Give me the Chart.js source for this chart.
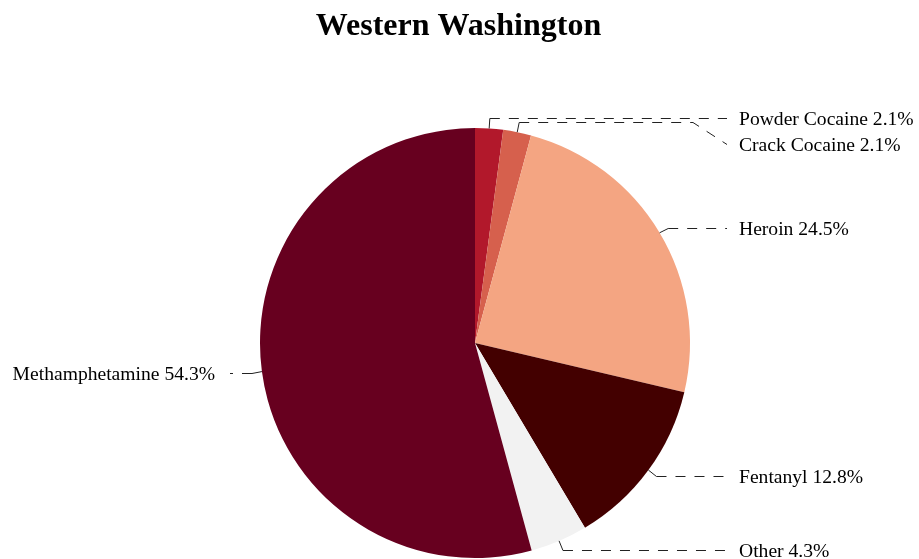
<!DOCTYPE html>
<html>
<head>
<meta charset="utf-8">
<script src="https://cdn.jsdelivr.net/npm/chart.js@4.4.0/dist/chart.umd.min.js"></script>
<style>
  html, body { margin: 0; padding: 0; background: #fff; }
  #wrap { width: 919px; height: 559px; position: relative; }
</style>
</head>
<body>
<div id="wrap"><canvas id="pieChart"></canvas></div>
<script>
// chart data
const chartTitle = 'Western Washington';
const drugLabels = ['Powder Cocaine', 'Crack Cocaine', 'Heroin', 'Fentanyl', 'Other', 'Methamphetamine'];
const drugShares = [2.1, 2.1, 24.5, 12.8, 4.3, 54.3];
const sliceColors = ['#b2182b', '#d6604d', '#f4a582', '#430000', '#f2f2f2', '#67001f'];

const serif = '"Liberation Serif", "Times New Roman", serif';

// draws title plus dashed leader lines and labels outside the pie
const calloutPlugin = {
  id: 'callouts',
  afterDraw(chart) {
    const ctx = chart.ctx;
    const w = chart.width;

    ctx.save();
    ctx.fillStyle = '#000';
    ctx.font = 'bold 32px ' + serif;
    ctx.textAlign = 'center';
    ctx.textBaseline = 'alphabetic';
    ctx.fillText(chartTitle, w / 2 - 1, 35);

    const arcs = chart.getDatasetMeta(0).data;
    const items = arcs.map((arc, i) => {
      const p = arc.getProps(['x', 'y', 'startAngle', 'endAngle', 'outerRadius'], true);
      const mid = (p.startAngle + p.endAngle) / 2;
      const r = p.outerRadius;
      const edge = { x: p.x + Math.cos(mid) * r, y: p.y + Math.sin(mid) * r };
      const elbow = { x: p.x + Math.cos(mid) * (r + 10), y: Math.round(p.y + Math.sin(mid) * (r + 10)) + 0.5 };
      return {
        text: drugLabels[i] + ' ' + drugShares[i].toFixed(1) + '%',
        edge,
        elbow,
        right: Math.cos(mid) >= 0,
        labelY: elbow.y
      };
    });

    // push overlapping labels apart on each side
    [true, false].forEach((side) => {
      const group = items.filter((it) => it.right === side).sort((a, b) => a.labelY - b.labelY);
      for (let k = 1; k < group.length; k++) {
        if (group[k].labelY - group[k - 1].labelY < 26) {
          group[k].labelY = group[k - 1].labelY + 26;
        }
      }
    });

    ctx.font = '19.6px ' + serif;
    ctx.strokeStyle = '#222';
    ctx.lineWidth = 1;

    items.forEach((it) => {
      const textX = it.right ? 739 : 215;
      const lineEnd = it.right ? textX - 12 : textX + 15;
      const bend = it.right ? lineEnd - 34 : lineEnd + 34;

      ctx.setLineDash([]);
      ctx.beginPath();
      ctx.moveTo(it.edge.x, it.edge.y);
      ctx.lineTo(it.elbow.x, it.elbow.y);
      ctx.stroke();

      ctx.setLineDash([10, 9]);
      ctx.beginPath();
      ctx.moveTo(it.elbow.x, it.elbow.y);
      if (Math.abs(it.labelY - it.elbow.y) > 1) {
        ctx.lineTo(bend, it.elbow.y);
      }
      ctx.lineTo(lineEnd, it.labelY);
      ctx.stroke();

      ctx.textAlign = it.right ? 'left' : 'right';
      ctx.fillText(it.text, textX, it.labelY + 6.5);
    });
    ctx.restore();
  }
};

new Chart(document.getElementById('pieChart'), {
  type: 'pie',
  data: {
    labels: drugLabels,
    datasets: [
      {
        data: drugShares,
        backgroundColor: sliceColors,
        borderWidth: 0
      }
    ]
  },
  options: {
    responsive: true,
    maintainAspectRatio: false,
    animation: false,
    layout: {
      padding: { top: 128, bottom: 1, left: 260, right: 229 }
    },
    plugins: {
      legend: { display: false },
      title: { display: false },
      tooltip: { enabled: false }
    }
  },
  plugins: [calloutPlugin]
});
</script>
</body>
</html>
